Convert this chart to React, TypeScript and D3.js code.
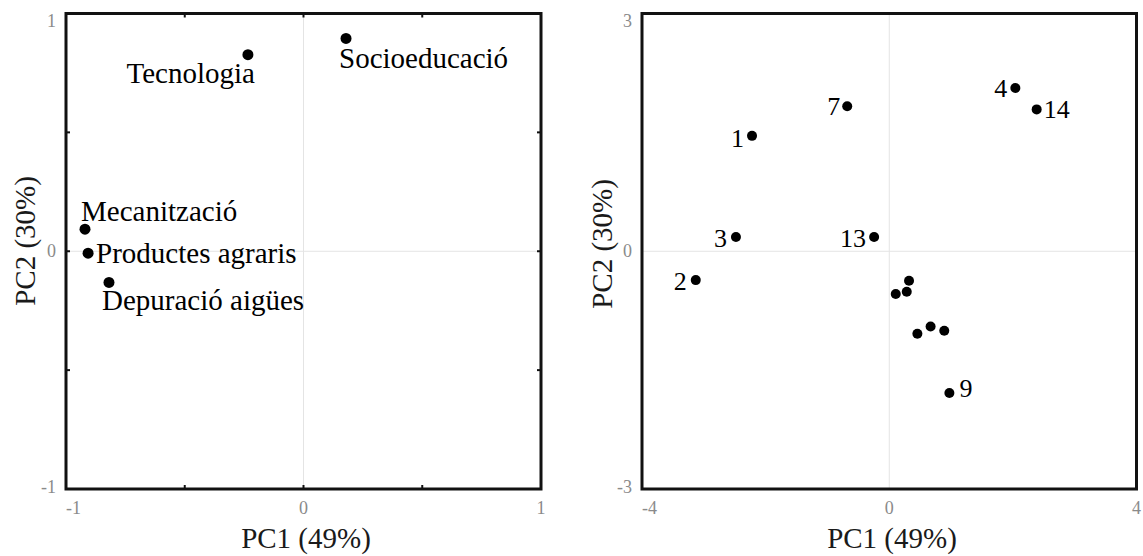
import React from 'react'
import { scaleLinear } from 'd3'

// loadings plot (variables)
const varNames = ['Tecnologia', 'Socioeducació', 'Mecanització', 'Productes agraris', 'Depuració aigües']
const varPC1 = [-0.234, 0.179, -0.92, -0.907, -0.819]
const varPC2 = [0.827, 0.895, 0.093, -0.008, -0.131]

// scores plot (sites 1..14, only some are labelled)
const siteLabels = ['1', '2', '3', '4', '', '', '7', '', '9', '', '', '', '13', '14']
const sitePC1 = [-2.22, -3.13, -2.48, 2.04, 0.32, 0.283, -0.68, 0.105, 0.973, 0.455, 0.669, 0.89, -0.245, 2.385]
const sitePC2 = [1.456, -0.364, 0.18, 2.06, -0.372, -0.511, 1.83, -0.54, -1.789, -1.041, -0.95, -1.003, 0.18, 1.79]

const leftXTicks = [-1, 0, 1]
const leftYTicks = [-1, 0, 1]
const rightXTicks = [-4, 0, 4]
const rightYTicks = [-3, 0, 3]
const xTitle = 'PC1 (49%)'
const yTitle = 'PC2 (30%)'

// label placement relative to the dot: [anchor, dx, dy]
const varLabelPos: [string, number, number][] = [
  ['end', 7, 28],
  ['start', -7, 30],
  ['start', -4, -8],
  ['start', 8, 10],
  ['start', -7, 28]
]
const siteLabelPos: [string, number, number][] = [
  ['end', -8, 11],
  ['end', -9, 10],
  ['end', -9, 10],
  ['end', -8, 9],
  ['start', 0, 0],
  ['start', 0, 0],
  ['end', -7, 9],
  ['start', 0, 0],
  ['start', 10, 4],
  ['start', 0, 0],
  ['start', 0, 0],
  ['start', 0, 0],
  ['end', -8, 10],
  ['start', 7, 9]
]

const FONT = 'Liberation Serif'
const TOP = 13.5
const BOTTOM = 489

type PanelProps = {
  x0: number
  x1: number
  xDomain: [number, number]
  yDomain: [number, number]
  xTicks: number[]
  yTicks: number[]
  minorX: number[]
  minorY: number[]
  px: number[]
  py: number[]
  labels: string[]
  labelPos: [string, number, number][]
  labelSize: number
  r: number
  yTitleX: number
  yTitleY: number
  xTitleX: number
}

const Panel: React.FC<PanelProps> = (p) => {
  const x = scaleLinear().domain(p.xDomain).range([p.x0, p.x1])
  const y = scaleLinear().domain(p.yDomain).range([BOTTOM, TOP])
  const tl = 4
  const tf = { fontFamily: FONT }
  return (
    <g>
      {/* zero grid lines */}
      <line x1={x(0)} x2={x(0)} y1={TOP} y2={BOTTOM} stroke="#e4e4e4" strokeWidth={1} />
      <line x1={p.x0} x2={p.x1} y1={y(0)} y2={y(0)} stroke="#e4e4e4" strokeWidth={1} />

      {/* inward ticks */}
      {p.minorX.map((t) => (
        <g key={'mx' + t}>
          <line x1={x(t)} x2={x(t)} y1={BOTTOM} y2={BOTTOM - tl} stroke="#111" strokeWidth={2} />
          <line x1={x(t)} x2={x(t)} y1={TOP} y2={TOP + tl} stroke="#111" strokeWidth={2} />
        </g>
      ))}
      {p.minorY.map((t) => (
        <g key={'my' + t}>
          <line x1={p.x0} x2={p.x0 + tl} y1={y(t)} y2={y(t)} stroke="#111" strokeWidth={2} />
          <line x1={p.x1} x2={p.x1 - tl} y1={y(t)} y2={y(t)} stroke="#111" strokeWidth={2} />
        </g>
      ))}

      <rect x={p.x0} y={TOP} width={p.x1 - p.x0} height={BOTTOM - TOP} fill="none" stroke="#111" strokeWidth={3} />

      {/* tick labels */}
      {p.xTicks.map((t, i) => (
        <text
          key={'xt' + t}
          x={x(t)}
          y={BOTTOM + 25}
          textAnchor={i === 0 ? 'start' : 'middle'}
          fontSize={18}
          fill="#8a8a8a"
          style={tf}
        >
          {t}
        </text>
      ))}
      {p.yTicks.map((t, i) => (
        <text
          key={'yt' + t}
          x={p.x0 - 10}
          y={y(t) + (i === p.yTicks.length - 1 ? 13.5 : i === 0 ? 4 : 6)}
          textAnchor="end"
          fontSize={18}
          fill="#8a8a8a"
          style={tf}
        >
          {t}
        </text>
      ))}

      {/* axis titles */}
      <text x={p.xTitleX} y={548} textAnchor="middle" fontSize={29} fill="#1a1a1a" style={tf}>
        {xTitle}
      </text>
      <text
        transform={`translate(${p.yTitleX}, ${p.yTitleY}) rotate(-90)`}
        textAnchor="middle"
        fontSize={29}
        fill="#1a1a1a"
        style={tf}
      >
        {yTitle}
      </text>

      {/* points */}
      {p.px.map((v, i) => (
        <circle key={'pt' + i} cx={x(v)} cy={y(p.py[i])} r={p.r} fill="#000" />
      ))}
      {p.labels.map((lab, i) =>
        lab ? (
          <text
            key={'lb' + i}
            x={x(p.px[i]) + p.labelPos[i][1]}
            y={y(p.py[i]) + p.labelPos[i][2]}
            textAnchor={p.labelPos[i][0] as any}
            fontSize={p.labelSize}
            fill="#000"
            style={tf}
          >
            {lab}
          </text>
        ) : null
      )}
    </g>
  )
}

export default function App() {
  return (
    <svg
      width={1143}
      height={556}
      style={{ position: 'absolute', left: 0, top: 0, background: '#fff', display: 'block' }}
    >
      <Panel
        x0={66}
        x1={541}
        xDomain={[-1, 1]}
        yDomain={[-1, 1]}
        xTicks={leftXTicks}
        yTicks={leftYTicks}
        minorX={[-0.5, 0, 0.5]}
        minorY={[-0.5, 0, 0.5]}
        px={varPC1}
        py={varPC2}
        labels={varNames}
        labelPos={varLabelPos}
        labelSize={29}
        r={5.5}
        yTitleX={35}
        yTitleY={241}
        xTitleX={306}
      />
      <Panel
        x0={642}
        x1={1136.5}
        xDomain={[-4, 4]}
        yDomain={[-3, 3]}
        xTicks={rightXTicks}
        yTicks={rightYTicks}
        minorX={[]}
        minorY={[]}
        px={sitePC1}
        py={sitePC2}
        labels={siteLabels}
        labelPos={siteLabelPos}
        labelSize={26}
        r={5}
        yTitleX={612}
        yTitleY={244}
        xTitleX={892}
      />
    </svg>
  )
}
